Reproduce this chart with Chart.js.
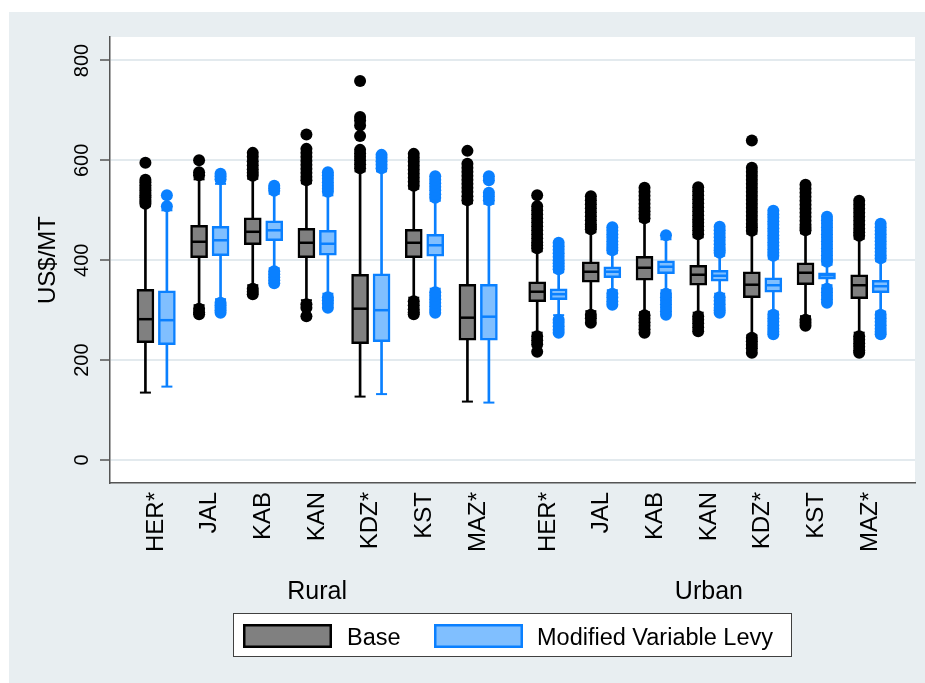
<!DOCTYPE html>
<html>
<head>
<meta charset="utf-8">
<title>Price distribution by province: Base vs Modified Variable Levy</title>
<script src="https://cdn.jsdelivr.net/npm/chart.js@4.4.1/dist/chart.umd.min.js"></script>
<style>
  html, body { margin: 0; padding: 0; background: #ffffff; }
  canvas { display: block; }
</style>
</head>
<body>
<canvas id="chart" width="925" height="683"></canvas>
<script>
// Provinces (same order in each area group) and the area groups
const categories = ['HER*', 'JAL', 'KAB', 'KAN', 'KDZ*', 'KST', 'MAZ*'];
const groups = ['Rural', 'Urban'];
const seriesNames = ['Base', 'Modified Variable Levy'];
const yTicks = [0, 200, 400, 600, 800];

// Box statistics, US$/MT: 7 rural provinces followed by 7 urban provinces
const baseLow  = [135, 310, 350, 320, 127, 325, 117, 255, 298, 296, 295, 250, 288, 255];
const baseQ1   = [235, 405, 431, 405, 233, 405, 240, 317, 356, 360, 350, 325, 351, 323];
const baseMed  = [282, 437, 457, 435, 303, 435, 285, 337, 377, 385, 371, 351, 375, 350];
const baseQ3   = [342, 470, 485, 464, 372, 462, 352, 357, 397, 408, 390, 377, 395, 371];
const baseHigh = [508, 562, 563, 554, 578, 543, 514, 418, 456, 478, 446, 453, 454, 443];

const mvlLow  = [147, 322, 384, 333, 132, 343, 115, 290, 340, 340, 333, 297, 350, 297];
const mvlQ1   = [231, 409, 439, 410, 237, 408, 240, 321, 365, 373, 358, 336, 362, 335];
const mvlMed  = [280, 440, 460, 433, 300, 430, 287, 332, 377, 387, 369, 350, 370, 348];
const mvlQ3   = [339, 468, 479, 460, 373, 452, 352, 343, 387, 399, 380, 365, 375, 360];
const mvlHigh = [500, 553, 533, 530, 578, 519, 513, 376, 414, 442, 409, 403, 391, 398];

// Outside values, one list per box
const baseOutliers = [
  [513, 517, 521, 526, 530, 535, 540, 545, 550, 556, 561, 595],
  [292, 296, 303, 570, 576, 600],
  [332, 337, 343, 569, 575, 582, 590, 598, 607, 615],
  [288, 305, 312, 560, 567, 575, 583, 591, 599, 607, 615, 623, 652],
  [584, 592, 600, 607, 614, 621, 649, 670, 680, 687, 759],
  [292, 296, 302, 310, 318, 549, 557, 565, 573, 581, 589, 597, 605, 613],
  [520, 528, 537, 545, 553, 561, 569, 577, 585, 593, 619],
  [217, 232, 240, 248, 424, 430, 436, 444, 452, 460, 468, 476, 484, 492, 500, 508, 530],
  [275, 284, 291, 462, 467, 472, 480, 488, 496, 504, 512, 520, 528],
  [255, 262, 269, 276, 283, 290, 484, 491, 498, 505, 513, 521, 529, 537, 545],
  [258, 266, 274, 281, 288, 452, 460, 468, 475, 482, 490, 498, 506, 514, 522, 530, 538, 546],
  [215, 224, 231, 238, 245, 459, 466, 473, 481, 489, 497, 505, 513, 521, 529, 537, 545, 553, 561, 569, 577, 585, 640],
  [269, 275, 281, 460, 465, 471, 479, 487, 495, 503, 511, 519, 527, 535, 543, 551],
  [215, 220, 227, 234, 241, 248, 449, 456, 463, 471, 479, 487, 495, 503, 511, 519]
];
const mvlOutliers = [
  [508, 530],
  [295, 300, 305, 310, 315, 562, 568, 573],
  [354, 360, 366, 372, 378, 539, 544, 549],
  [305, 313, 320, 326, 537, 543, 549, 556, 563, 570, 576],
  [584, 591, 598, 605, 611],
  [295, 301, 308, 315, 322, 329, 336, 525, 532, 540, 547, 554, 561, 568],
  [520, 528, 535, 560, 568],
  [255, 261, 268, 275, 281, 382, 388, 394, 400, 407, 414, 421, 428, 435],
  [311, 318, 326, 333, 420, 425, 431, 438, 445, 452, 459, 466],
  [291, 298, 305, 312, 319, 326, 333, 450],
  [295, 300, 305, 312, 319, 326, 415, 420, 425, 432, 439, 446, 453, 460, 467],
  [252, 257, 263, 270, 277, 284, 291, 409, 415, 422, 429, 436, 443, 450, 457, 464, 471, 478, 485, 492, 499],
  [315, 322, 329, 336, 343, 397, 403, 410, 417, 424, 431, 438, 445, 452, 459, 466, 473, 480, 487],
  [252, 257, 263, 270, 277, 284, 291, 404, 410, 417, 424, 431, 438, 445, 452, 459, 466, 473]
];

// ---- layout of the category axis (linear units, one unit per province) ----
const groupStart = [0.86, 8.16];
const pairOffset = 0.2;
const xCenters = [];
groups.forEach((g, gi) => categories.forEach((c, ci) => xCenters.push(groupStart[gi] + ci)));
const xLabels = [];
groups.forEach(() => categories.forEach(c => xLabels.push(c)));

const FONT = "'Liberation Sans', Arial, Helvetica, sans-serif";
Chart.defaults.font.family = FONT;
Chart.defaults.color = '#000000';

const PANEL = '#e8eef1';
const series = [
  { name: seriesNames[0], low: baseLow, q1: baseQ1, med: baseMed, q3: baseQ3, high: baseHigh, out: baseOutliers,
    dx: -pairOffset, line: '#000000', fill: '#808080', dot: '#000000' },
  { name: seriesNames[1], low: mvlLow, q1: mvlQ1, med: mvlMed, q3: mvlQ3, high: mvlHigh, out: mvlOutliers,
    dx: pairOffset, line: '#0a80ff', fill: '#80bfff', dot: '#0a80ff' }
];

const datasets = [];
series.forEach(s => {
  const xs = xCenters.map(c => c + s.dx);
  // whisker spans (drawn underneath the boxes)
  datasets.push({
    type: 'bar', label: s.name + ' whisker', order: 4, grouped: false,
    data: xs.map((x, i) => ({ x: x, y: [s.low[i], s.high[i]] })),
    backgroundColor: s.line, borderWidth: 0, barThickness: 2
  });
  // interquartile boxes
  datasets.push({
    type: 'bar', label: s.name, order: 1, grouped: false,
    data: xs.map((x, i) => ({ x: x, y: [s.q1[i], s.q3[i]] })),
    backgroundColor: s.fill, borderColor: s.line, borderWidth: 2.5,
    borderSkipped: false, barThickness: 17
  });
  // medians
  datasets.push({
    type: 'scatter', label: s.name + ' median', order: 0,
    data: xs.map((x, i) => ({ x: x, y: s.med[i] })),
    pointStyle: 'line', pointRadius: 7.5, borderColor: s.line, borderWidth: 2.5
  });
  // whisker caps
  const caps = [];
  xs.forEach((x, i) => { caps.push({ x: x, y: s.low[i] }); caps.push({ x: x, y: s.high[i] }); });
  datasets.push({
    type: 'scatter', label: s.name + ' cap', order: 2, data: caps,
    pointStyle: 'line', pointRadius: 5.5, borderColor: s.line, borderWidth: 2
  });
  // outside values
  const pts = [];
  xs.forEach((x, i) => s.out[i].forEach(v => pts.push({ x: x, y: v })));
  datasets.push({
    type: 'scatter', label: s.name + ' outside', order: 3, data: pts,
    pointStyle: 'circle', pointRadius: 6, backgroundColor: s.dot, borderWidth: 0
  });
});

// panel background, group captions and legend
const decorations = {
  id: 'decorations',
  beforeDraw(chart) {
    const { ctx, chartArea: a, width, height } = chart;
    ctx.save();
    ctx.fillStyle = PANEL;
    ctx.fillRect(9, 12, width - 9, height - 12);
    ctx.fillStyle = '#ffffff';
    ctx.fillRect(a.left, a.top, a.right - a.left, a.bottom - a.top);
    ctx.restore();
  },
  afterDraw(chart) {
    const { ctx } = chart;
    const xs = chart.scales.x;
    ctx.save();
    // group captions centred under each block of provinces
    ctx.fillStyle = '#000000';
    ctx.font = '25px ' + FONT;
    ctx.textAlign = 'center';
    ctx.textBaseline = 'alphabetic';
    groups.forEach((g, gi) => {
      const first = xs.getPixelForValue(groupStart[gi]);
      const last = xs.getPixelForValue(groupStart[gi] + categories.length - 1);
      ctx.fillText(g, (first + last) / 2, 599);
    });
    // legend
    const lx = 233, ly = 613, lw = 559, lh = 44;
    ctx.fillStyle = '#ffffff';
    ctx.fillRect(lx, ly, lw, lh);
    ctx.strokeStyle = '#404040';
    ctx.lineWidth = 1;
    ctx.strokeRect(lx + 0.5, ly + 0.5, lw - 1, lh - 1);
    const swatches = [
      { x: 243, tx: 347, s: series[0] },
      { x: 434, tx: 537, s: series[1] }
    ];
    ctx.font = '23.5px ' + FONT;
    ctx.textAlign = 'left';
    swatches.forEach(sw => {
      ctx.fillStyle = sw.s.fill;
      ctx.fillRect(sw.x, 624, 89, 24);
      ctx.strokeStyle = sw.s.line;
      ctx.lineWidth = 2.5;
      ctx.strokeRect(sw.x + 1.25, 624 + 1.25, 89 - 2.5, 24 - 2.5);
      ctx.fillStyle = '#000000';
      ctx.fillText(sw.s.name, sw.tx, 645);
    });
    ctx.restore();
  }
};

new Chart(document.getElementById('chart'), {
  type: 'bar',
  data: { datasets: datasets },
  options: {
    responsive: false,
    animation: false,
    events: [],
    devicePixelRatio: 1,
    layout: { padding: { top: 37, right: 9, left: 0, bottom: 0 } },
    plugins: { legend: { display: false }, tooltip: { enabled: false }, title: { display: false } },
    scales: {
      x: {
        type: 'linear', min: 0, max: 15, offset: false,
        grid: { display: false, drawTicks: false, offset: false },
        border: { display: true, color: '#555555', width: 1.5 },
        afterBuildTicks: scale => { scale.ticks = xCenters.map(v => ({ value: v })); },
        afterFit: scale => { scale.height = 200; },
        ticks: {
          autoSkip: false, minRotation: 90, maxRotation: 90, padding: 9,
          font: { size: 24 }, color: '#000000',
          callback: (value, index) => xLabels[index]
        }
      },
      y: {
        type: 'linear', min: -46, max: 847,
        grid: { color: '#e3eaee', lineWidth: 2, drawTicks: true, tickLength: 10, tickColor: '#555555', tickWidth: 1.5 },
        border: { display: true, color: '#555555', width: 1.5 },
        afterBuildTicks: scale => { scale.ticks = yTicks.map(v => ({ value: v })); },
        afterFit: scale => { scale.width = 110; },
        ticks: {
          minRotation: 90, maxRotation: 90, crossAlign: 'center', padding: 1,
          font: { size: 20 }, color: '#000000',
          callback: value => String(value)
        },
        title: {
          display: true, text: 'US$/MT', color: '#000000',
          font: { size: 24, lineHeight: 1.2 }, padding: { top: 34, bottom: 0 }
        }
      }
    }
  },
  plugins: [decorations]
});
</script>
</body>
</html>
